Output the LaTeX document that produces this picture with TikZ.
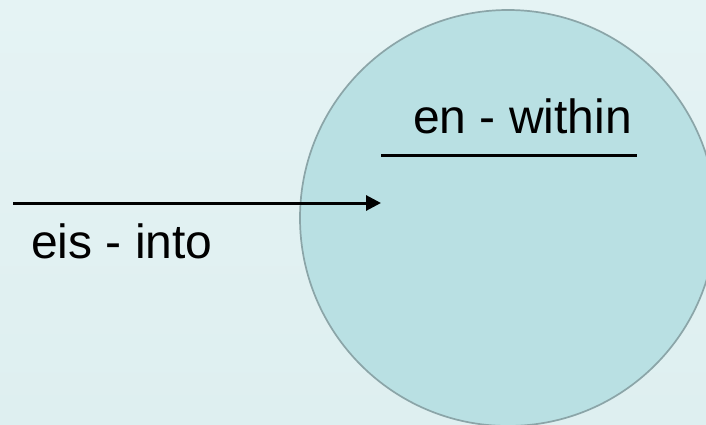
\documentclass[tikz,border=0pt]{standalone}
\usepackage{fontspec}
\setmainfont{Liberation Sans}
\usetikzlibrary{arrows.meta}
\definecolor{bgtop}{HTML}{E5F3F4}
\definecolor{bgbot}{HTML}{DEEFF0}
\definecolor{circfill}{HTML}{B9E0E3}
\definecolor{circline}{HTML}{8BA5A8}
\tikzset{
  lbl/.style={inner sep=0pt, anchor=base west, font=\fontsize{48}{53}\selectfont, text=black},
  bar/.style={line width=3pt, black},
  arr/.style={line width=3pt, black, -{Triangle[length=15pt,width=15pt]}},
  ring/.style={circle, draw=circline, line width=1.7pt, fill=circfill, minimum size=416pt, inner sep=0pt}
}
\begin{document}
\begin{tikzpicture}[x=1pt,y=-1pt]
\useasboundingbox (0,0) rectangle (706,425);
\shade[top color=bgtop, bottom color=bgbot] (0,0) rectangle (706,425);
\begin{scope}
\clip (0,0) rectangle (706,425);
\node[ring] (world) at (508,218) {};
\end{scope}
\node[lbl] (en) at (413,133) {en - within};
\coordinate (ul) at (381,155);
\coordinate (ur) at (637,155);
\draw[bar] (ul) -- (ur);
\coordinate (as) at (13,203);
\coordinate (ae) at (381,203);
\draw[arr] (as) -- (ae);
\node[lbl] (eis) at (31,258) {eis - into};
\end{tikzpicture}
\end{document}
